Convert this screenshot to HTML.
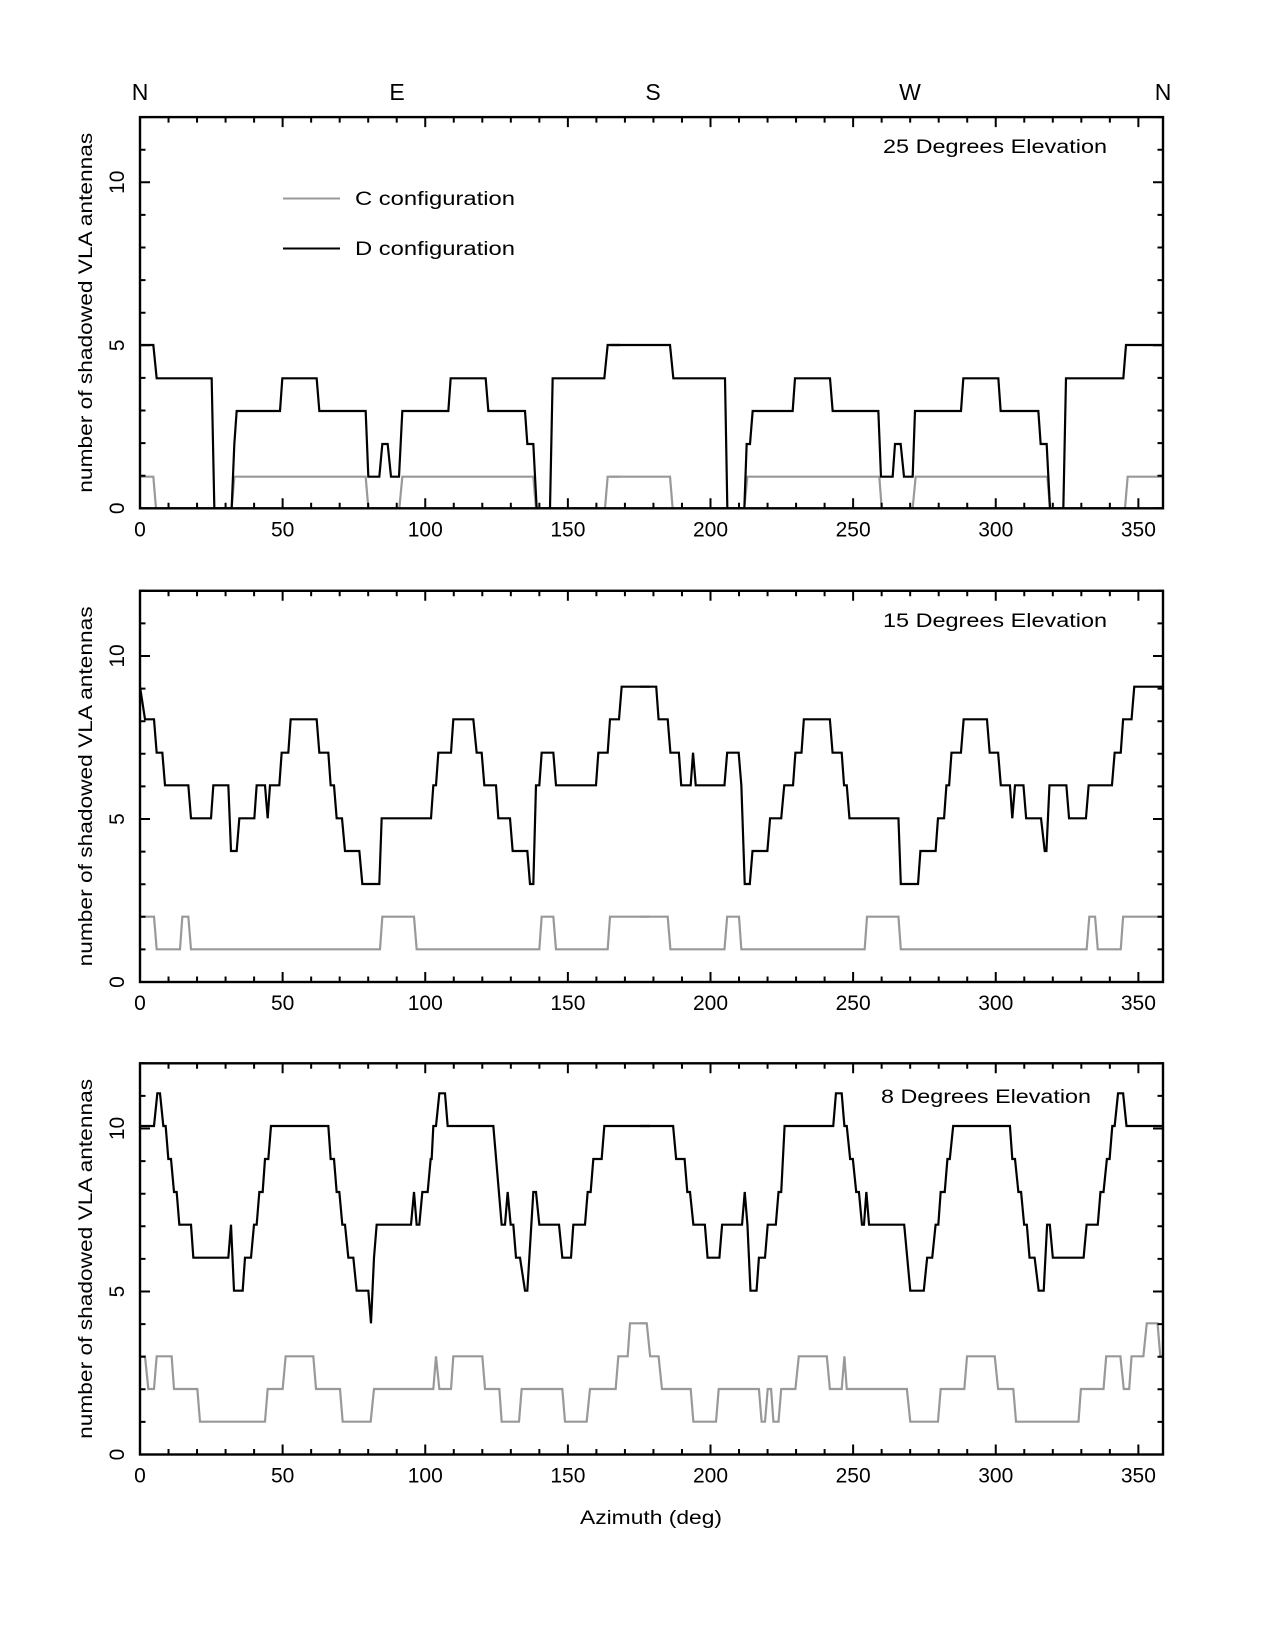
<!DOCTYPE html>
<html><head><meta charset="utf-8"><style>
html,body{margin:0;padding:0;background:#fff;}
svg{display:block;}
text{font-family:"Liberation Sans","DejaVu Sans",sans-serif;fill:#000;}
.d{fill:none;stroke:#000;stroke-width:2.2;stroke-linejoin:miter;}
.c{fill:none;stroke:#999;stroke-width:2.2;}
</style></head><body>
<svg id="s" width="1275" height="1650" viewBox="0 0 1275 1650" xmlns="http://www.w3.org/2000/svg">
<defs>
<clipPath id="k1"><rect x="140" y="117" width="1023" height="392"/></clipPath>
<clipPath id="k2"><rect x="140" y="591" width="1023" height="392"/></clipPath>
<clipPath id="k3"><rect x="140" y="1063" width="1023" height="392"/></clipPath>
</defs>
<rect width="1275" height="1650" fill="#fff"/>
<g font-size="23" text-anchor="middle">
<text x="140" y="100">N</text><text x="397" y="100">E</text><text x="653" y="100">S</text><text x="910" y="100">W</text><text x="1163" y="100">N</text>
</g>

<g clip-path="url(#k1)">
<g transform="translate(120,300) scale(0.33333)">
<polyline class="c" vector-effect="non-scaling-stroke" points="62,530 100,530 108,625 335,625 343,530 737,530 745,625 838,625 847,530 1240,530 1248,625 1455,625 1463,530 1500,530"/>
<polyline class="d" vector-effect="non-scaling-stroke" points="62,135 100,135 110,235 275,235 283,625 335,625 343,432 350,333 480,333 487,235 590,235 598,333 737,333 745,530 778,530 787,432 803,432 813,530 837,530 847,333 985,333 992,235 1097,235 1105,333 1215,333 1222,432 1240,432 1250,625 1290,625 1298,235 1453,235 1463,135 1500,135"/>
</g>
<g transform="translate(610,300) scale(0.33333)">
<polyline class="c" vector-effect="non-scaling-stroke" points="0,530 180,530 188,625 403,625 412,530 808,530 815,625 908,625 917,530 1312,530 1320,625 1545,625 1553,530 1680,530"/>
<polyline class="d" vector-effect="non-scaling-stroke" points="0,135 180,135 190,235 345,235 352,625 403,625 410,432 420,432 428,333 548,333 555,235 660,235 668,333 805,333 813,530 848,530 855,432 872,432 882,530 908,530 915,333 1053,333 1060,235 1165,235 1172,333 1285,333 1292,432 1310,432 1320,625 1360,625 1368,235 1540,235 1548,135 1680,135"/>
</g>
</g>
<text x="883" y="153" font-size="19" textLength="224" lengthAdjust="spacingAndGlyphs">25  Degrees  Elevation</text>
<line x1="283" y1="198.5" x2="340" y2="198.5" stroke="#999" stroke-width="2"/>
<line x1="283" y1="248.5" x2="340" y2="248.5" stroke="#000" stroke-width="2"/>
<text x="355" y="205" font-size="19" textLength="160" lengthAdjust="spacingAndGlyphs">C  configuration</text>
<text x="355" y="255" font-size="19" textLength="160" lengthAdjust="spacingAndGlyphs">D  configuration</text>

<g clip-path="url(#k2)">
<g transform="translate(130,660) scale(0.33333)">
<polyline class="c" vector-effect="non-scaling-stroke" points="30,770 72,770 80,868 150,868 157,770 175,770 183,868 750,868 757,770 852,770 860,868 1228,868 1235,770 1270,770 1278,868 1433,868 1440,770 1560,770"/>
<polyline class="d" vector-effect="non-scaling-stroke" points="30,80 45,178 72,178 80,278 97,278 105,376 175,376 183,475 243,475 250,376 295,376 303,573 320,573 328,475 373,475 380,376 405,376 413,475 420,376 448,376 455,278 475,278 482,178 560,178 568,278 595,278 602,376 612,376 620,475 636,475 645,573 688,573 697,672 748,672 755,475 903,475 910,376 918,376 925,278 963,278 970,178 1030,178 1040,278 1055,278 1063,376 1098,376 1105,475 1140,475 1148,573 1192,573 1200,672 1210,672 1218,376 1228,376 1235,278 1270,278 1278,376 1398,376 1405,278 1433,278 1440,178 1467,178 1475,80 1560,80"/>
</g>
<g transform="translate(640,660) scale(0.33784,0.33333)">
<polyline class="c" vector-effect="non-scaling-stroke" points="0,770 82,770 90,868 250,868 258,770 293,770 300,868 665,868 672,770 765,770 772,868 1322,868 1330,770 1347,770 1355,868 1423,868 1430,770 1560,770"/>
<polyline class="d" vector-effect="non-scaling-stroke" points="0,80 48,80 55,178 82,178 90,278 115,278 122,376 150,376 157,278 165,376 250,376 258,278 292,278 300,376 310,672 325,672 333,573 377,573 385,475 418,475 427,376 453,376 460,278 478,278 485,178 562,178 570,278 597,278 604,376 612,376 620,475 765,475 772,672 823,672 830,573 875,573 882,475 900,475 907,376 915,376 922,278 950,278 958,178 1027,178 1035,278 1060,278 1068,376 1095,376 1102,475 1110,376 1135,376 1143,475 1187,475 1198,573 1203,573 1212,376 1262,376 1270,475 1320,475 1328,376 1397,376 1405,278 1423,278 1430,178 1455,178 1463,80 1560,80"/>
</g>
</g>
<text x="883" y="627" font-size="19" textLength="224" lengthAdjust="spacingAndGlyphs">15  Degrees  Elevation</text>

<g clip-path="url(#k3)">
<g transform="translate(130,1080) scale(0.33333)">
<polyline class="c" vector-effect="non-scaling-stroke" points="30,829 45,829 55,927 72,927 80,829 125,829 132,927 202,927 210,1025 405,1025 413,927 458,927 467,829 550,829 558,927 630,927 638,1025 722,1025 732,927 910,927 918,829 928,927 963,927 970,829 1057,829 1065,927 1108,927 1115,1025 1167,1025 1175,927 1297,927 1305,1025 1370,1025 1380,927 1457,927 1465,829 1493,829 1500,730 1550,730"/>
<polyline class="d" vector-effect="non-scaling-stroke" points="30,138 72,138 82,40 90,40 100,138 107,138 115,237 123,237 132,336 140,336 148,434 183,434 190,533 295,533 303,434 312,632 338,632 345,533 363,533 372,434 380,434 388,336 398,336 405,237 415,237 423,138 595,138 602,237 612,237 620,336 628,336 637,434 645,434 655,533 670,533 680,632 715,632 723,730 732,533 740,434 843,434 852,336 860,434 868,434 877,336 893,336 902,237 905,237 910,138 918,138 928,40 945,40 953,138 1090,138 1115,434 1125,434 1133,336 1142,434 1150,434 1158,533 1170,533 1185,632 1192,632 1210,336 1218,336 1228,434 1287,434 1297,533 1323,533 1330,434 1365,434 1373,336 1382,336 1390,237 1415,237 1423,138 1560,138"/>
</g>
<g transform="translate(640,1080) scale(0.33784,0.33333)">
<polyline class="c" vector-effect="non-scaling-stroke" points="0,730 20,730 30,829 55,829 65,927 150,927 158,1025 225,1025 233,927 352,927 360,1025 370,1025 378,927 388,927 395,1025 410,1025 418,927 460,927 470,829 553,829 562,927 597,927 605,829 612,927 790,927 800,1025 882,1025 890,927 960,927 968,829 1050,829 1060,927 1105,927 1113,1025 1298,1025 1305,927 1372,927 1380,829 1422,829 1432,927 1448,927 1455,829 1490,829 1500,730 1532,730 1540,829 1560,829"/>
<polyline class="d" vector-effect="non-scaling-stroke" points="0,138 98,138 107,237 132,237 140,336 148,336 158,434 192,434 200,533 235,533 243,434 302,434 310,336 318,434 327,632 345,632 352,533 370,533 378,434 402,434 410,336 418,336 428,138 572,138 580,40 597,40 605,138 612,138 622,237 630,237 640,336 648,336 657,434 663,434 670,336 678,434 782,434 800,632 840,632 850,533 865,533 875,434 883,434 890,336 902,336 910,237 917,237 927,138 1095,138 1102,237 1110,237 1120,336 1128,336 1137,434 1145,434 1153,533 1168,533 1180,632 1195,632 1205,434 1213,434 1222,533 1313,533 1322,434 1355,434 1363,336 1372,336 1382,237 1390,237 1398,138 1405,138 1415,40 1430,40 1440,138 1560,138"/>
</g>
</g>
<text x="881" y="1103" font-size="19" textLength="210" lengthAdjust="spacingAndGlyphs">8  Degrees  Elevation</text>

<text x="651" y="1524" font-size="19" text-anchor="middle" textLength="142" lengthAdjust="spacingAndGlyphs">Azimuth  (deg)</text>
<g id="axes"></g>
</svg>
<script>
(function(){
var ns="http://www.w3.org/2000/svg",g=document.getElementById("axes");
function el(t,a,txt){var e=document.createElementNS(ns,t);for(var k in a)e.setAttribute(k,a[k]);if(txt!=null)e.textContent=txt;g.appendChild(e);return e;}
var L=140,R=1163,U=32.6,px=2.8525;
[508.3,982,1454.5].forEach(function(b){
 var t=b-12*U,d="";
 for(var k=0;k<=36;k++){var x=L+k*10*px;if(x>R+0.5)break;var len=(k%5==0)?10:5.5;
  d+="M"+x+" "+b+"v"+(-len)+"M"+x+" "+t+"v"+len;
  if(k%5==0) el("text",{x:x,y:b+28,"font-size":21,"text-anchor":"middle"},String(k*10));}
 for(var v=0;v<=12;v++){var y=b-v*U,len=(v%5==0)?10:5.5;
  d+="M"+L+" "+y+"h"+len+"M"+R+" "+y+"h"+(-len);
  if(v%5==0) el("text",{x:0,y:0,"font-size":21,"text-anchor":"middle",transform:"translate(124,"+y+") rotate(-90)"},String(v));}
 el("path",{d:d,stroke:"#000","stroke-width":2,fill:"none"});
 el("rect",{x:L,y:t,width:R-L,height:b-t,fill:"none",stroke:"#000","stroke-width":2.4});
 el("text",{x:0,y:0,"font-size":19,"text-anchor":"middle",textLength:360,lengthAdjust:"spacingAndGlyphs",transform:"translate(92,"+((b+t)/2)+") rotate(-90)"},"number  of  shadowed  VLA  antennas");
});
})();
</script>
</body></html>
